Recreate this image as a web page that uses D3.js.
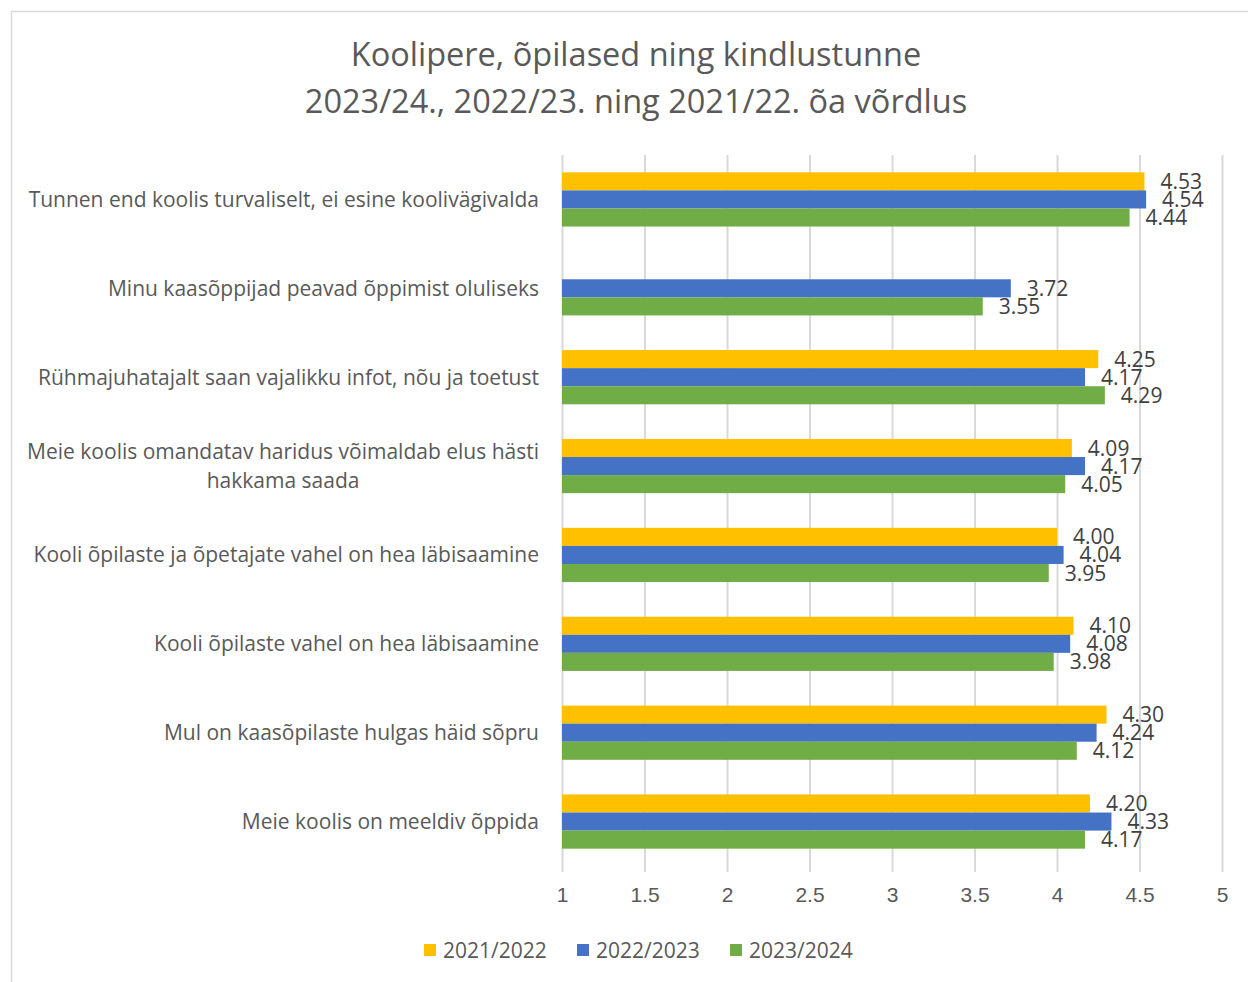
<!DOCTYPE html>
<html>
<head>
<meta charset="utf-8">
<script src="https://cdn.jsdelivr.net/npm/d3@7"></script>
<style>
  html, body { margin: 0; padding: 0; background: #fff; }
  svg { display: block; font-family: "Open Sans", "Noto Sans", sans-serif; }
</style>
</head>
<body>
<svg id="chart" width="1248" height="982"></svg>
<script>
/* ---------- data ---------- */
const titleLines = [
  'Koolipere, õpilased ning kindlustunne',
  '2023/24., 2022/23. ning 2021/22. õa võrdlus'
];
const categories = [
  'Tunnen end koolis turvaliselt, ei esine koolivägivalda',
  'Minu kaasõppijad peavad õppimist oluliseks',
  'Rühmajuhatajalt saan vajalikku infot, nõu ja toetust',
  'Meie koolis omandatav haridus võimaldab elus hästi hakkama saada',
  'Kooli õpilaste ja õpetajate vahel on hea läbisaamine',
  'Kooli õpilaste vahel on hea läbisaamine',
  'Mul on kaasõpilaste hulgas häid sõpru',
  'Meie koolis on meeldiv õppida'
];
const seriesNames = ['2021/2022', '2022/2023', '2023/2024'];
const values2021 = [4.53, null, 4.25, 4.09, 4.00, 4.10, 4.30, 4.20];
const values2022 = [4.54, 3.72, 4.17, 4.17, 4.04, 4.08, 4.24, 4.33];
const values2023 = [4.44, 3.55, 4.29, 4.05, 3.95, 3.98, 4.12, 4.17];
const xTicks = [1, 1.5, 2, 2.5, 3, 3.5, 4, 4.5, 5];
const seriesColors = ['#FFC000', '#4472C4', '#70AD47'];

/* ---------- layout ---------- */
const W = 1248, H = 982;
const plot = { left: 562, right: 1222, top: 155, bottom: 866 };
const textColor = '#595959';
const labelSize = 21;   // axis, category, legend and data labels
const titleSize = 32.5;

const svg = d3.select('#chart');

// measure a string at a given size (used for wrapping)
const probe = svg.append('text').attr('visibility', 'hidden');
function textWidth(str, size) {
  probe.attr('font-size', size).text(str);
  return probe.node().getComputedTextLength();
}

// chart area frame (only its top/left edges fall inside the picture)
svg.append('rect')
  .attr('x', 11.5).attr('y', 11.5)
  .attr('width', W).attr('height', H)
  .attr('fill', '#fff').attr('stroke', '#d9d9d9').attr('stroke-width', 1.5);

// title
svg.append('g').selectAll('text')
  .data(titleLines)
  .join('text')
  .attr('x', 636)
  .attr('y', (d, i) => 54 + i * 47)
  .attr('dy', '0.36em')
  .attr('text-anchor', 'middle')
  .attr('font-size', titleSize)
  .attr('fill', textColor)
  .text(d => d);

const x = d3.scaleLinear().domain([1, 5]).range([plot.left, plot.right]);
const y = d3.scaleBand().domain(categories).range([plot.top, plot.bottom])
  .paddingInner(0.39).paddingOuter(0.195);
const ySub = d3.scaleBand().domain(seriesNames).range([0, y.bandwidth()]);

// gridlines + tick labels
const xAxis = d3.axisBottom(x)
  .tickValues(xTicks)
  .tickFormat(d3.format('~g'))
  .tickSize(plot.bottom - plot.top + 6)
  .tickPadding(15);

const gx = svg.append('g')
  .attr('transform', `translate(0,${plot.top})`)
  .call(xAxis);
gx.select('.domain').remove();
gx.selectAll('.tick line').attr('stroke', '#d9d9d9').attr('stroke-width', 2);
gx.selectAll('.tick text')
  .attr('fill', textColor)
  .attr('font-size', labelSize)
  .attr('font-family', null);

// rows of data per series
const table = seriesNames.map((name, s) => ({
  name,
  color: seriesColors[s],
  values: [values2021, values2022, values2023][s]
}));

const rows = [];
table.forEach(ser => {
  categories.forEach((cat, i) => {
    if (ser.values[i] != null) rows.push({ cat, series: ser.name, color: ser.color, value: ser.values[i] });
  });
});

// bars
svg.append('g').selectAll('rect')
  .data(rows)
  .join('rect')
  .attr('x', x(1))
  .attr('y', d => y(d.cat) + ySub(d.series))
  .attr('width', d => x(d.value) - x(1))
  .attr('height', ySub.bandwidth())
  .attr('fill', d => d.color);

// value labels
svg.append('g').selectAll('text')
  .data(rows)
  .join('text')
  .attr('x', d => x(d.value) + 16)
  .attr('y', d => y(d.cat) + ySub(d.series) + ySub.bandwidth() / 2)
  .attr('dy', '0.36em')
  .attr('font-size', labelSize)
  .attr('fill', '#404040')
  .text(d => d3.format('.2f')(d.value));

// category labels (wrapped like the original where the text is too long)
const wrapWidth = 520;
const catG = svg.append('g');
categories.forEach(cat => {
  const words = cat.split(' ');
  const lines = [];
  let line = [];
  words.forEach(w => {
    const tryLine = line.concat(w).join(' ');
    if (textWidth(tryLine, labelSize) > wrapWidth && line.length) {
      lines.push(line.join(' '));
      line = [w];
    } else {
      line.push(w);
    }
  });
  lines.push(line.join(' '));

  const t = catG.append('text')
    .attr('font-size', labelSize)
    .attr('fill', textColor);
  const cy = y(cat) + y.bandwidth() / 2;
  const lh = 29;
  if (lines.length === 1) {
    t.attr('x', 539).attr('y', cy).attr('dy', '0.36em').attr('text-anchor', 'end').text(lines[0]);
  } else {
    // multi-line labels are centred as a block, right edge at the axis
    const w0 = d3.max(lines, l => textWidth(l, labelSize));
    const cx = 539 - w0 / 2;
    lines.forEach((l, i) => {
      t.append('tspan')
        .attr('x', cx)
        .attr('y', cy + (i - (lines.length - 1) / 2) * lh)
        .attr('dy', '0.36em')
        .attr('text-anchor', 'middle')
        .text(l);
    });
  }
});
probe.remove();

// legend
const legendItems = [
  { name: seriesNames[0], color: seriesColors[0], x: 424 },
  { name: seriesNames[1], color: seriesColors[1], x: 577 },
  { name: seriesNames[2], color: seriesColors[2], x: 730 }
];
const lg = svg.append('g').selectAll('g')
  .data(legendItems)
  .join('g')
  .attr('transform', d => `translate(${d.x},950)`);
lg.append('rect')
  .attr('x', 0).attr('y', -6)
  .attr('width', 12).attr('height', 12)
  .attr('fill', d => d.color);
lg.append('text')
  .attr('x', 19).attr('y', 0).attr('dy', '0.36em')
  .attr('font-size', labelSize)
  .attr('fill', textColor)
  .text(d => d.name);
</script>
</body>
</html>
